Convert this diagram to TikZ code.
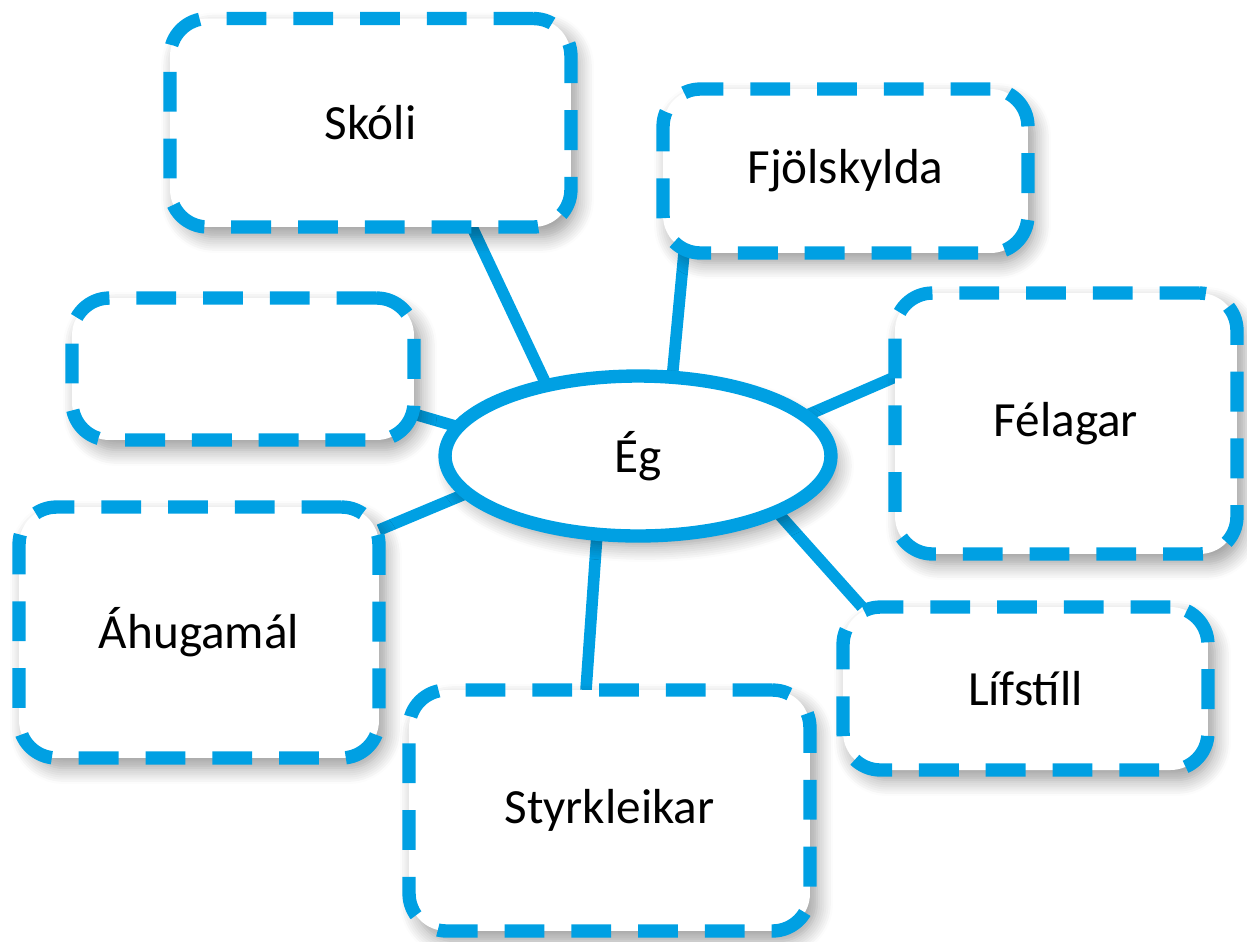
\documentclass[tikz,border=0pt]{standalone}
\usepackage{fontspec}
\setmainfont{Carlito}
\usetikzlibrary{shapes.geometric,calc,shadows.blur,backgrounds}
\definecolor{mapblue}{RGB}{0,160,227}
\begin{document}
\begin{tikzpicture}[x=0.02cm,y=-0.02cm,
  softshadow/.style={blur shadow={shadow xshift=0.14cm, shadow yshift=-0.2cm,
      shadow blur radius=0.32cm, shadow blur steps=8, shadow opacity=40}},
  topic/.style={draw=mapblue, line width=7.6pt, dash pattern=on 22.7pt off 15.3pt,
      rounded corners=0.75cm, fill=white, inner sep=0pt, softshadow,
      font=\fontsize{28}{34}\selectfont},
  hub/.style={ellipse, draw=mapblue, line width=7.6pt, fill=white, inner sep=0pt,
      minimum width=7.72cm, minimum height=3.2cm, softshadow,
      font=\fontsize{28}{34}\selectfont},
  spoke/.style={draw=mapblue, line width=6.6pt}]
\useasboundingbox (0,0) rectangle (1247,941);

% central idea
\node[hub] (eg) at (638,456) {Ég};

% surrounding topics
\node[topic, minimum width=8.02cm, minimum height=4.17cm] (skoli) at (370.5,122.75) {Skóli};
\node[topic, minimum width=7.30cm, minimum height=3.28cm] (fjol) at (845.5,171) {Fjölskylda};
\node[topic, minimum width=6.84cm, minimum height=2.84cm] (empty) at (243,369) {};
\node[topic, minimum width=6.84cm, minimum height=5.22cm] (felagar) at (1066,423.5) {Félagar};
\node[topic, minimum width=7.20cm, minimum height=5.02cm] (ahug) at (199,632.5) {Áhugamál};
\node[topic, minimum width=8.02cm, minimum height=4.82cm] (styrk) at (609.5,810.5) {Styrkleikar};
\node[topic, minimum width=7.30cm, minimum height=3.26cm] (lifs) at (1025.5,688.5) {Lífstíll};

% spokes from the hub to each topic, kept beneath the shapes
\begin{scope}[on background layer]
  \draw[spoke] ($(eg.center)+(-92,-72)$) -- ($(skoli.center)+(101.5,104.25)$);
  \draw[spoke] ($(eg.center)+(34,-76)$) -- ($(fjol.center)+(-161.5,82)$);
  \draw[spoke] ($(eg.center)+(-176,-28)$) -- ($(empty.center)+(171,45)$);
  \draw[spoke] ($(eg.center)+(167,-40)$) -- ($(felagar.center)+(-171,-46.5)$);
  \draw[spoke] ($(eg.center)+(-173,38)$) -- ($(ahug.center)+(180,-102.5)$);
  \draw[spoke] ($(eg.center)+(-41,78)$) -- ($(styrk.center)+(-23.5,-120.5)$);
  \draw[spoke] ($(eg.center)+(140,57)$) -- ($(lifs.center)+(-163.5,-81.5)$);
\end{scope}
\end{tikzpicture}
\end{document}
